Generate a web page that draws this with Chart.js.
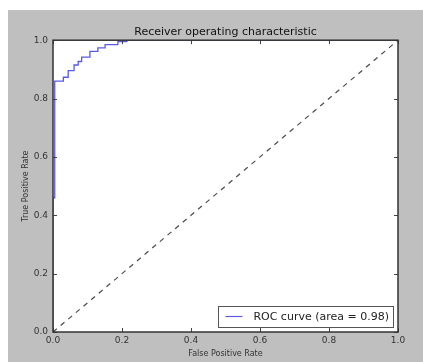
<!DOCTYPE html>
<html>
<head>
<meta charset="utf-8">
<script src="https://cdn.jsdelivr.net/npm/chart.js@4/dist/chart.umd.min.js"></script>
<style>
  html, body { margin: 0; padding: 0; background: #ffffff; }
  #wrap { position: absolute; left: 8px; top: 10px; width: 415px; height: 352px; background: #bfbfbf; }
  canvas { display: block; }
</style>
</head>
<body>
<div id="wrap"><canvas id="c" width="415" height="352"></canvas></div>
<script>
// ROC curve points (False Positive Rate, True Positive Rate)
const fpr = [0, 0, 0.005, 0.005, 0.03, 0.03, 0.044, 0.044, 0.061, 0.061, 0.073, 0.073, 0.083, 0.083, 0.107, 0.107, 0.13, 0.13, 0.151, 0.151, 0.188, 0.188, 0.214, 0.214, 1];
const tpr = [0, 0.46, 0.46, 0.86, 0.86, 0.873, 0.873, 0.896, 0.896, 0.915, 0.915, 0.927, 0.927, 0.942, 0.942, 0.962, 0.962, 0.974, 0.974, 0.985, 0.985, 0.995, 0.995, 1, 1];
// chance diagonal
const diagX = [0, 1];
const diagY = [0, 1];
const tickValues = [0, 0.2, 0.4, 0.6, 0.8, 1.0];
const titleText = 'Receiver operating characteristic';
const xLabel = 'False Positive Rate';
const yLabel = 'True Positive Rate';
const legendLabel = 'ROC curve (area = 0.98)';

const FONT = "'DejaVu Sans', sans-serif";
const CURVE_COLOR = '#5a5ae6';

const framePlugin = {
  id: 'frame',
  beforeDraw(chart) {
    const a = chart.chartArea, ctx = chart.ctx;
    ctx.save();
    ctx.fillStyle = '#ffffff';
    ctx.fillRect(a.left, a.top, a.right - a.left, a.bottom - a.top);
    ctx.restore();
  },
  afterDraw(chart) {
    const a = chart.chartArea, ctx = chart.ctx;
    const xs = chart.scales.x, ys = chart.scales.y;
    ctx.save();
    // inward ticks
    ctx.strokeStyle = '#444';
    ctx.lineWidth = 1;
    const tl = 4;
    tickValues.forEach(v => {
      const px = Math.round(xs.getPixelForValue(v)) + 0.5;
      const py = Math.round(ys.getPixelForValue(v)) + 0.5;
      ctx.beginPath();
      ctx.moveTo(px, a.bottom); ctx.lineTo(px, a.bottom - tl);
      ctx.moveTo(px, a.top); ctx.lineTo(px, a.top + tl);
      ctx.moveTo(a.left, py); ctx.lineTo(a.left + tl, py);
      ctx.moveTo(a.right, py); ctx.lineTo(a.right - tl, py);
      ctx.stroke();
    });
    // frame
    ctx.strokeStyle = '#333';
    ctx.lineWidth = 1.5;
    ctx.strokeRect(a.left, a.top, a.right - a.left, a.bottom - a.top);
    // legend
    ctx.font = '11px ' + FONT;
    const tw = ctx.measureText(legendLabel).width;
    const w = 7 + 17 + 11 + tw + 4;
    const h = 21;
    const bx = a.right - 5 - w;
    const by = a.bottom - 5 - h;
    ctx.fillStyle = '#ffffff';
    ctx.fillRect(bx, by, w, h);
    ctx.strokeStyle = '#555';
    ctx.lineWidth = 1;
    ctx.strokeRect(Math.round(bx) + 0.5, Math.round(by) + 0.5, Math.round(w), h);
    ctx.strokeStyle = CURVE_COLOR;
    ctx.lineWidth = 1.2;
    ctx.beginPath();
    ctx.moveTo(bx + 7, by + h / 2);
    ctx.lineTo(bx + 24, by + h / 2);
    ctx.stroke();
    ctx.fillStyle = '#222';
    ctx.textBaseline = 'middle';
    ctx.textAlign = 'left';
    ctx.fillText(legendLabel, bx + 35, by + h / 2 + 0.5);
    ctx.restore();
  }
};

new Chart(document.getElementById('c'), {
  type: 'scatter',
  data: {
    datasets: [
      {
        label: legendLabel,
        data: fpr.map((x, i) => ({ x: x, y: tpr[i] })),
        showLine: true,
        borderColor: CURVE_COLOR,
        borderWidth: 1.3,
        pointRadius: 0,
        tension: 0,
        fill: false
      },
      {
        label: 'chance',
        data: diagX.map((x, i) => ({ x: x, y: diagY[i] })),
        showLine: true,
        borderColor: '#4a4a4a',
        borderWidth: 1.2,
        borderDash: [5, 5],
        pointRadius: 0,
        fill: false
      }
    ]
  },
  options: {
    responsive: false,
    animation: false,
    layout: { padding: { left: 0, right: 25, top: 0, bottom: 0 } },
    plugins: {
      legend: { display: false },
      tooltip: { enabled: false },
      title: {
        display: true,
        fullSize: false,
        text: titleText,
        color: '#111',
        font: { family: FONT, size: 11, weight: 'normal' },
        padding: { top: 16, bottom: 1 }
      }
    },
    scales: {
      x: {
        type: 'linear',
        min: 0, max: 1,
        afterFit(s) { s.height = 30; },
        grid: { display: false, drawTicks: false },
        border: { display: false },
        ticks: {
          stepSize: 0.2,
          padding: 3,
          color: '#333',
          font: { family: FONT, size: 9 },
          callback: v => Number(v).toFixed(1)
        },
        title: {
          display: true,
          text: xLabel,
          color: '#333',
          font: { family: FONT, size: 8 },
          padding: { top: 0, bottom: 3 }
        }
      },
      y: {
        type: 'linear',
        min: 0, max: 1,
        afterFit(s) { s.width = 45; },
        grid: { display: false, drawTicks: false },
        border: { display: false },
        ticks: {
          stepSize: 0.2,
          padding: 5,
          color: '#333',
          font: { family: FONT, size: 9 },
          callback: v => Number(v).toFixed(1)
        },
        title: {
          display: true,
          text: yLabel,
          color: '#333',
          font: { family: FONT, size: 8 },
          padding: { top: 13, bottom: 0 }
        }
      }
    }
  },
  plugins: [framePlugin]
});
</script>
</body>
</html>
